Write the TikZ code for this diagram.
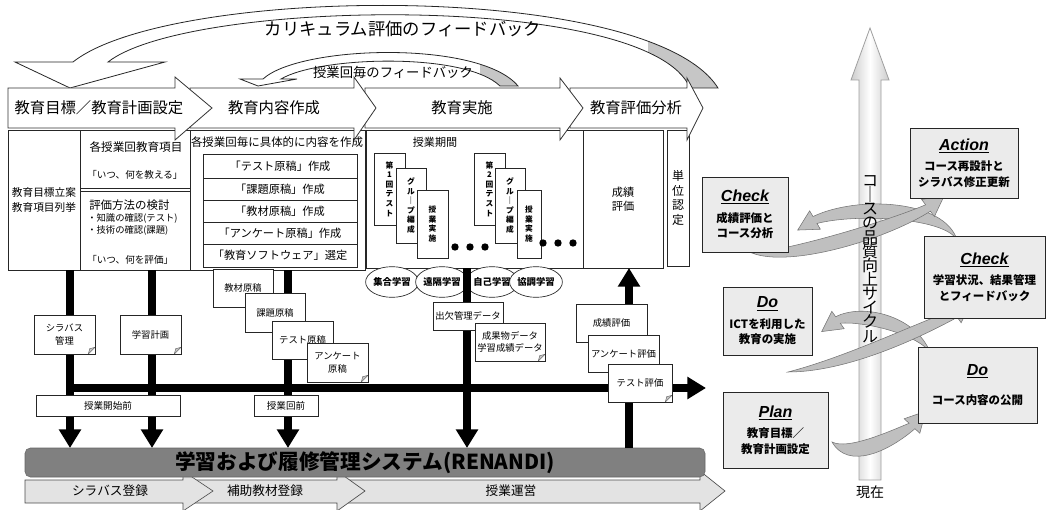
\documentclass[tikz,border=0pt]{standalone}
\usepackage{fontspec}
\setmainfont{Noto Sans CJK JP}
\newfontfamily\latinbi{Liberation Sans}
\usetikzlibrary{shapes.geometric,arrows.meta,calc}
\newcommand\fz[2]{\fontsize{#1}{#2}\selectfont\lineskiplimit=-20pt\relax}
\newcommand\bx[7][]{\node[#1,minimum width={(#5-#3)*0.75},minimum height={(#6-#4)*0.75},inner sep=0pt,outer sep=0pt] (#2) at ({(#3+#5)/2},{(#4+#6)/2}) {#7};}
\newcommand\swoosh[5]{\filldraw[sw] (#1) .. controls (#2) and (#3) .. ($(#4)!3pt!90:(#3)$) -- ($(#4)!8pt!90:(#3)$) -- ($(#4)!-15pt!(#3)$) -- ($(#4)!8pt!-90:(#3)$) -- ($(#4)!3pt!-90:(#3)$) .. controls ($(#3)+(#5)$) and ($(#2)+(#5)$) .. (#1) -- cycle;}
\newcommand\ttl[1]{{\latinbi\fontsize{12}{14}\selectfont\bfseries\itshape\underline{#1}}}
\begin{document}
\begin{tikzpicture}[x=0.75pt,y=-0.75pt,
  box/.style={draw=black!85,fill=white,line width=0.6pt,align=center},
  chev/.style={draw=black!80,fill=white,line width=0.6pt},
  band/.style={draw=black!85,line width=0.6pt},
  blk/.style={line width=5.5pt,black},
  blkar/.style={blk,-{Triangle[length=14pt,width=16pt]}},
  note/.style={draw=black!85,fill=white,line width=0.5pt,align=center,font=\fz{7}{9.3},
    path picture={\filldraw[fill=gray!45,draw=black!70,line width=0.3pt]
      ([xshift=-5pt]path picture bounding box.south east) -- ([yshift=5pt]path picture bounding box.south east) -- ([shift={(-4pt,4pt)}]path picture bounding box.south east) -- cycle;}},
  lab/.style={draw=black!85,fill=white,line width=0.5pt,font=\fz{7.2}{9}},
  card/.style={draw=black!85,fill=white,line width=0.5pt,align=center,font=\fz{5.8}{7.2}\bfseries},
  ell/.style={ellipse,draw=black!85,fill=white,line width=0.5pt,minimum width=37.5pt,minimum height=23pt,inner sep=0pt,font=\fz{7}{8}\bfseries},
  bchev/.style={draw=black!70,fill=gray!22,line width=0.5pt},
  pd/.style={draw=black!85,fill=gray!16,line width=0.6pt,align=center,font=\fz{8.6}{11.5}\bfseries},
  sw/.style={fill=gray!50,draw=black!55,line width=0.4pt}]
\useasboundingbox (0,0) rectangle (1047,510);

% ---------- feedback arrows ----------
\def\bigband{(15,62) -- (70,88) -- (165,62) -- (108,62) .. controls (190,-2) and (650,-8) .. (690,88) -- (718,88) .. controls (650,-20) and (170,-15) .. (73,62) -- cycle}
\fill[white] \bigband;
\begin{scope}\clip (648,0) rectangle (730,89); \fill[gray!45] \bigband; \end{scope}
\draw[band] \bigband;
\node[font=\fz{13}{15}] (cfb) at (403,29) {カリキュラム評価のフィードバック};

\def\smallband{(240,79) -- (258,86) -- (297,79) -- (281,79) .. controls (320,56) and (465,52) .. (500,86) -- (518,86) .. controls (480,40) and (300,45) .. (263,79) -- cycle}
\fill[white] \smallband;
\begin{scope}\clip (480,0) rectangle (530,87); \fill[gray!45] \smallband; \end{scope}
\draw[band] \smallband;
\node[font=\fz{10}{12}] (lfb) at (393,72) {授業回毎のフィードバック};

% ---------- boxes under process row ----------
\bx[box,font=\fz{8}{11}]{boxA}{8}{130}{80}{270}{教育目標立案\\教育項目列挙}
\bx[box]{boxB1}{80}{130}{190}{188}{}
\bx[box]{boxB2}{80}{191}{190}{270}{}
\node[font=\fz{8.7}{10}] (b1a) at (136,147) {各授業回教育項目};
\node[font=\fz{7.2}{9},anchor=west,inner sep=0pt] (b1b) at (87,175) {「いつ、何を教える」};
\node[font=\fz{8.6}{10},anchor=west,inner sep=0pt] (b2a) at (89,205) {評価方法の検討};
\node[font=\fz{7}{8},anchor=west,inner sep=0pt] (b2b) at (87,218) {・知識の確認(テスト)};
\node[font=\fz{7}{8},anchor=west,inner sep=0pt] (b2c) at (87,230) {・技術の確認(課題)};
\node[font=\fz{7.2}{9},anchor=west,inner sep=0pt] (b2d) at (87,260) {「いつ、何を評価」};

\bx[box]{boxC}{190}{130}{365}{270}{}
\node[font=\fz{8.6}{10}] (ctitle) at (277,142) {各授業回毎に具体的に内容を作成};
\bx[box,font=\fz{8.4}{10}]{r1}{203}{154}{357}{178}{「テスト原稿」作成}
\bx[box,font=\fz{8.4}{10}]{r2}{203}{178}{357}{200}{「課題原稿」作成}
\bx[box,font=\fz{8.4}{10}]{r3}{203}{200}{357}{222}{「教材原稿」作成}
\bx[box,font=\fz{8.4}{10}]{r4}{203}{222}{357}{244}{「アンケート原稿」作成}
\bx[box,font=\fz{8.4}{10}]{r5}{203}{244}{357}{267}{「教育ソフトウェア」選定}

\bx[box]{boxD}{366}{130}{583}{268}{}
\node[font=\fz{8.3}{10}] (dtitle) at (435,142) {授業期間};
\bx[card]{c1}{374}{153}{405}{225}{第\\1\\回\\テ\\ス\\ト}
\bx[card]{c2}{396}{168}{426}{243}{グ\\ル\\｜\\プ\\編\\成}
\bx[card]{c3}{417}{190}{448}{258}{授\\業\\実\\施}
\bx[card]{c4}{474}{153}{505}{225}{第\\2\\回\\テ\\ス\\ト}
\bx[card]{c5}{495}{168}{525}{243}{グ\\ル\\｜\\プ\\編\\成}
\bx[card]{c6}{517}{190}{541}{258}{授\\業\\実\\施}
\foreach \dx in {455,470,485} \fill (\dx,247) circle[radius=3.7];
\foreach \dx in {543,558,573} \fill (\dx,243) circle[radius=3.7];
\bx[box,font=\fz{8.4}{10.5}]{boxE}{583}{130}{663}{268}{成績\\評価}
\bx[box,font=\fz{9}{11}]{boxF}{667}{130}{689}{266}{単\\位\\認\\定}

\node[ell] (e1) at (392,282) {集合学習};
\node[ell] (e2) at (442,282) {遠隔学習};
\node[ell] (e3) at (492,282) {自己学習};
\node[ell] (e4) at (536,282) {協調学習};

% ---------- process row ----------
\draw[chev] (570,88) -- (687,88) -- (687,78) -- (703,108) -- (687,140) -- (687,128) -- (570,128) -- cycle;
\draw[chev] (365,88) -- (560,88) -- (560,78) -- (583,108) -- (560,140) -- (560,128) -- (365,128) -- cycle;
\draw[chev] (190,88) -- (354,88) -- (354,77) -- (376,108) -- (354,140) -- (354,128) -- (190,128) -- cycle;
\draw[chev] (8,88) -- (175,88) -- (175,77) -- (212,108) -- (175,140) -- (175,128) -- (8,128) -- cycle;
\node[font=\fz{11.5}{13}] (p1) at (99,108) {教育目標／教育計画設定};
\node[font=\fz{11.5}{13}] (p2) at (274,108) {教育内容作成};
\node[font=\fz{11.5}{13}] (p3) at (462,108) {教育実施};
\node[font=\fz{11.5}{13}] (p4) at (636,108) {教育評価分析};

% ---------- bottom chevrons and system bar ----------
\draw[bchev] (337,480) -- (700,480) -- (700,471) -- (725,491) -- (700,511) -- (700,503) -- (337,503) -- cycle;
\draw[bchev] (183,480) -- (337,480) -- (337,471) -- (365,491) -- (337,511) -- (337,503) -- (183,503) -- cycle;
\draw[bchev] (25,480) -- (183,480) -- (183,471) -- (213,491) -- (183,511) -- (183,503) -- (25,503) -- cycle;
\node[font=\fz{9.5}{11}] (s1) at (110,491) {シラバス登録};
\node[font=\fz{9.5}{11}] (s2) at (265,491) {補助教材登録};
\node[font=\fz{9.5}{11}] (s3) at (511,491) {授業運営};
\bx[draw=black!60,fill=black!50,rounded corners=4pt,font=\fz{15.5}{18}\bfseries]{bar}{25}{448}{705}{477}{学習および履修管理システム(RENANDI)}

% ---------- thick flow lines ----------
\coordinate (l1) at (70,0);
\coordinate (l2) at (152,0);
\coordinate (l3) at (288,0);
\coordinate (l4) at (467,0);
\coordinate (l5) at (629,0);
\coordinate (hend) at (706,388);
\draw[blkar] (boxA.south -| l1) -- (l1 |- bar.north);
\draw[blkar] (boxB2.south -| l2) -- (l2 |- bar.north);
\draw[blkar] (boxC.south -| l3) -- (l3 |- bar.north);
\draw[blkar] (boxD.south -| l4) -- (l4 |- bar.north);
\draw[blkar] (l5 |- bar.north) -- (l5 |- boxE.south);
\draw[blkar] (l1 |- hend) -- (hend);

% ---------- documents ----------
\bx[note]{nsyl}{34}{315}{95}{354}{シラバス\\管理}
\bx[note]{nplan}{120}{315}{181}{354}{学習計画}
\bx[note]{nmat}{213}{269}{273}{307}{教材原稿}
\bx[note]{ntask}{245}{293}{305}{332}{課題原稿}
\bx[note]{ntest}{272}{321}{333}{359}{テスト原稿}
\bx[note]{nenq}{307}{343}{368}{382}{アンケート\\原稿}
\bx[note]{natt}{433}{302}{503}{330}{出欠管理データ}
\bx[note]{nres}{475}{323}{545}{361}{成果物データ\\学習成績データ}
\bx[note]{ngr}{576}{304}{647}{342}{成績評価}
\bx[note]{neq}{588}{335}{659}{372}{アンケート評価}
\bx[note]{nte}{608}{364}{672}{402}{テスト評価}
\bx[lab]{lab1}{36}{395}{180}{416}{授業開始前}
\bx[lab]{lab2}{254}{395}{318}{416}{授業回前}

% ---------- PDCA cycle ----------
\shade[left color=gray!40,right color=gray!40,middle color=white,draw=gray!75,line width=0.6pt]
  (859,480) -- (859,80) -- (851,80) -- (870,28) -- (889,80) -- (881,80) -- (881,480) -- cycle;
\node[font=\fz{10.5}{12}] (now) at (870,492) {現在};
\swoosh{832,442}{848,470}{888,452}{912,426}{0,-20}
\swoosh{930,352}{915,315}{862,303}{838,320}{0,18}
\swoosh{788,372}{850,372}{925,335}{955,314}{0,-16}
\swoosh{957,240}{945,200}{858,195}{815,220}{0,18}
\swoosh{752,253}{790,268}{885,240}{928,208}{0,-18}
\node[font=\fz{12}{10.6},align=center,inner sep=0pt] (vt) at (870,259) {コ\\｜\\ス\\の\\品\\質\\向\\上\\サ\\イ\\ク\\ル};
\bx[pd]{action}{910}{128}{1018}{198}{\ttl{Action}\\[4pt]コース再設計と\\シラバス修正更新}
\bx[pd]{checkL}{702}{177}{788}{252}{\ttl{Check}\\[4pt]成績評価と\\コース分析}
\bx[pd]{checkR}{924}{236}{1045}{318}{\ttl{Check}\\[4pt]学習状況、結果管理\\とフィードバック}
\bx[pd]{doL}{723}{287}{812}{355}{\ttl{Do}\\[4pt]ICTを利用した\\教育の実施}
\bx[pd]{doR}{918}{347}{1037}{423}{\ttl{Do}\\[10pt]コース内容の公開}
\bx[pd]{plan}{723}{392}{828}{468}{\ttl{Plan}\\[4pt]教育目標／\\教育計画設定}
\end{tikzpicture}
\end{document}
